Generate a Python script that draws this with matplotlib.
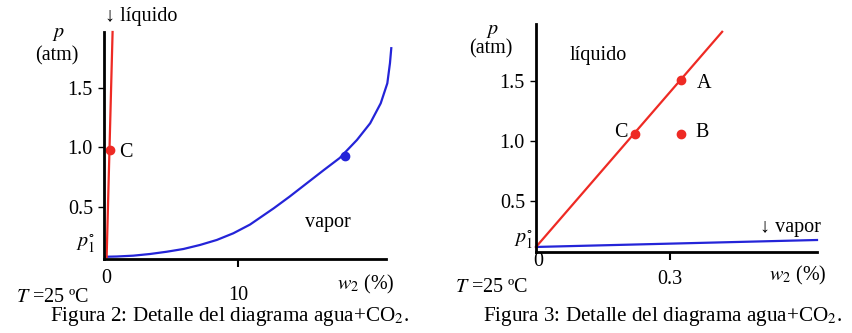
import matplotlib
matplotlib.use('Agg')
import matplotlib.pyplot as plt

plt.rcParams['font.family'] = ['Liberation Serif', 'DejaVu Serif']
plt.rcParams['mathtext.fontset'] = 'stix'

RED = '#ee2a24'
BLUE = '#2424d8'

# Figura 2: vapour curve (w2 in %, p in atm)
vap2_w = [0.0, 0.81, 2.07, 3.33, 4.6, 5.86, 7.12, 8.39, 9.64, 10.9,
          12.7, 13.9, 15.2, 16.5, 17.7, 19.0, 20.0, 20.8, 21.3, 21.5, 21.6]
vap2_p = [0.082, 0.084, 0.091, 0.105, 0.124, 0.147, 0.181, 0.223, 0.279, 0.352,
          0.489, 0.587, 0.699, 0.811, 0.912, 1.063, 1.203, 1.371, 1.539, 1.708, 1.834]
liq2_w = [0.05, 0.5]
liq2_p = [0.08, 1.97]
pt2_c = (0.27, 0.98)
pt2_vap = (18.1, 0.93)

# Figura 3: zoom near w2 = 0
liq3_w = [0.0, 0.416]
liq3_p = [0.117, 1.91]
vap3_w = [0.0, 0.628]
vap3_p = [0.117, 0.175]
pts3 = {'A': (0.324, 1.51), 'B': (0.324, 1.06), 'C': (0.222, 1.06)}

yticks = [0.5, 1.0, 1.5]
ytick_labels = ['0.5', '1.0', '1.5']

FS = 14.5


def style_axes(ax, xlim, ylim, xtick):
    ax.set_xlim(*xlim)
    ax.set_ylim(*ylim)
    for s in ['top', 'right']:
        ax.spines[s].set_visible(False)
    for s in ['left', 'bottom']:
        ax.spines[s].set_linewidth(2.0)
    ax.set_yticks(yticks)
    ax.set_yticklabels(ytick_labels, fontsize=FS)
    ax.set_xticks([xtick])
    ax.set_xticklabels([''])
    ax.tick_params(axis='y', direction='out', length=4, width=1.0, pad=4)
    ax.tick_params(axis='x', direction='out', length=6, width=1.5)
    ax.patch.set_visible(False)


fig = plt.figure(figsize=(8.52, 3.33), dpi=100)

# ---- left panel
ax1 = fig.add_axes([104 / 852, 1 - 259 / 333, 282 / 852, 227 / 333])
style_axes(ax1, (-0.15, 21.2), (0.063, 1.97), 10)
ax1.plot(vap2_w, vap2_p, color=BLUE, lw=1.6, clip_on=False)
ax1.plot(liq2_w, liq2_p, color=RED, lw=1.6, clip_on=False)
ax1.plot(*pt2_c, 'o', color=RED, ms=6)
ax1.plot(*pt2_vap, 'o', color=BLUE, ms=6)
ax1.text(1.0, 0.96, 'C', fontsize=FS, va='center')
ax1.text(16.8, 0.37, 'vapor', fontsize=FS, ha='center', va='center')
ax1.text(-0.1, 2.1, '↓ líquido', fontsize=FS, va='center', ha='left')
ax1.text(0.0, -0.1, '0', fontsize=FS, ha='center', va='center', clip_on=False)
ax1.text(10, -0.24, '10', fontsize=FS, ha='center', va='center', clip_on=False)
ax1.text(19.7, -0.15, '$w_2$ (%)', fontsize=FS, ha='center', va='center')
ax1.text(-0.8, 0.19, r'$p_1^{\circ}$', fontsize=FS, ha='right', va='center')
ax1.text(-3.6, 1.96, '$p$', fontsize=FS, ha='center', va='center')
ax1.text(-3.7, 1.77, '(atm)', fontsize=FS, ha='center', va='center')
ax1.text(-6.8, -0.26, '$T$ =25 ºC', fontsize=FS, ha='left', va='center')

# ---- right panel
ax2 = fig.add_axes([536 / 852, 1 - 252 / 333, 281 / 852, 228 / 333])
style_axes(ax2, (0.0, 0.628), (0.075, 1.975), 0.3)
ax2.plot(vap3_w, vap3_p, color=BLUE, lw=1.6, clip_on=False)
ax2.plot(liq3_w, liq3_p, color=RED, lw=1.6, clip_on=False)
for name, (w, p) in pts3.items():
    ax2.plot(w, p, 'o', color=RED, ms=6)
ax2.text(0.36, 1.48, 'A', fontsize=FS, va='center')
ax2.text(0.356, 1.07, 'B', fontsize=FS, va='center')
ax2.text(0.205, 1.07, 'C', fontsize=FS, va='center', ha='right')
ax2.text(0.139, 1.71, 'líquido', fontsize=FS, va='center', ha='center')
ax2.text(0.50, 0.28, '↓ vapor', fontsize=FS, va='center', ha='left')
ax2.text(0.005, -0.0, '0', fontsize=FS, ha='center', va='center', clip_on=False)
ax2.text(0.3, -0.15, '0.3', fontsize=FS, ha='center', va='center', clip_on=False)
ax2.text(0.585, -0.12, '$w_2$ (%)', fontsize=FS, ha='center', va='center')
ax2.text(-0.007, 0.18, r'$p_1^{\circ}$', fontsize=FS, ha='right', va='center')
ax2.text(-0.097, 1.92, '$p$', fontsize=FS, ha='center', va='center')
ax2.text(-0.1, 1.77, '(atm)', fontsize=FS, ha='center', va='center')
ax2.text(-0.18, -0.22, '$T$ =25 ºC', fontsize=FS, ha='left', va='center')

fig.text(230 / 852, 1 - 316 / 333, 'Figura 2: Detalle del diagrama agua+CO$_2$.',
         fontsize=15.2, ha='center', va='center')
fig.text(663 / 852, 1 - 316 / 333, 'Figura 3: Detalle del diagrama agua+CO$_2$.',
         fontsize=15.2, ha='center', va='center')

fig.savefig('out.png', dpi=100)
